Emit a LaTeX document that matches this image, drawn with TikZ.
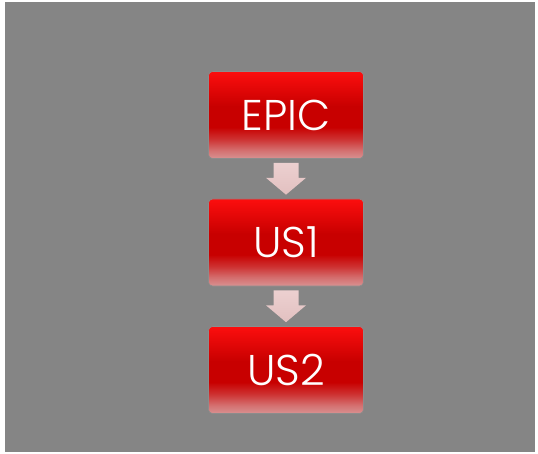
\documentclass[tikz,border=0pt]{standalone}
\usepackage{fontspec}
\setmainfont{Poppins Light}
\usetikzlibrary{calc}
\definecolor{bg}{RGB}{133,133,133}
\definecolor{rtop}{RGB}{252,14,14}
\definecolor{rmid}{RGB}{200,0,0}
\definecolor{rbot}{RGB}{216,146,146}
\definecolor{atop}{RGB}{236,208,208}
\definecolor{abot}{RGB}{226,192,192}
\pgfdeclareverticalshading{boxshade}{100bp}{
  color(0bp)=(rbot); color(25bp)=(rbot); color(30bp)=(rbot!75!rmid); color(36bp)=(rbot!35!rmid); color(43bp)=(rmid); color(55bp)=(rmid); color(75bp)=(rtop); color(100bp)=(rtop)}
\tikzset{
  epicbox/.style={draw=black!45, line width=0.6pt, rounded corners=4pt, shading=boxshade,
    minimum width=155pt, minimum height=87pt, inner sep=0pt, text=white,
    font=\fontsize{43}{43}\selectfont},
  flowarrow/.style={draw=none}
}
\begin{document}
\begin{tikzpicture}[x=1pt,y=1pt]
\useasboundingbox (0,0) rectangle (538,453);
\fill[white] (0,0) rectangle (538,453);
\fill[bg] (5,1) rectangle (535,451);
\node[epicbox] (epic) at (286,338) {EPIC};
\node[epicbox] (us1) at (286,210.5) {US1};
\node[epicbox] (us2) at (286,83) {US2};
\foreach \a/\b in {epic/us1, us1/us2}{
  \path[flowarrow, top color=atop, bottom color=abot]
    ($(\a.south)+(-12.5,-4)$) -- ($(\a.south)+(12.5,-4)$) -- ($(\a.south)+(12.5,-19)$)
    -- ($(\a.south)+(20,-19)$) -- ($(\b.north)+(0,4)$) -- ($(\a.south)+(-20,-19)$)
    -- ($(\a.south)+(-12.5,-19)$) -- cycle;
}
\end{tikzpicture}
\end{document}
